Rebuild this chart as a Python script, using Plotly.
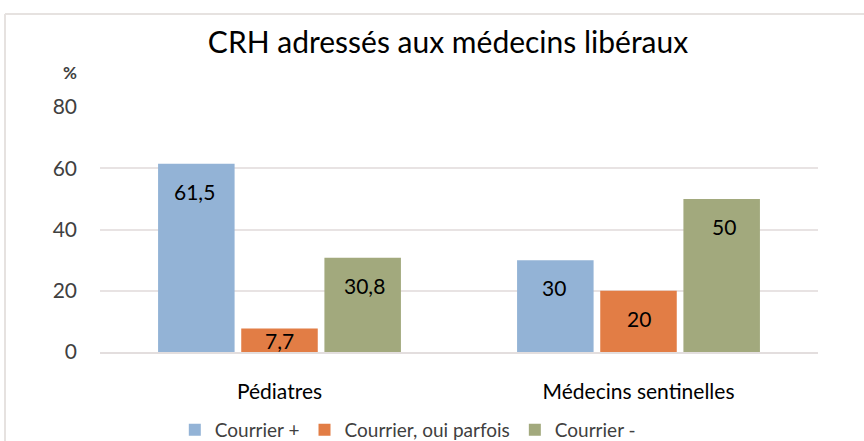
import plotly.graph_objects as go

categories = ["Pédiatres", "Médecins sentinelles"]
series_names = ["Courrier +", "Courrier, oui parfois", "Courrier -"]
courrier_plus = [61.5, 30]
courrier_parfois = [7.7, 20]
courrier_moins = [30.8, 50]
tick_vals = [0, 20, 40, 60, 80]
tick_text = ["0", "20", "40", "60", "80"]

colors = ["#93B3D6", "#E27D45", "#A2A97D"]
FONT = "Lato, 'Open Sans', sans-serif"

def fmt(v):
    s = ("%g" % v)
    return s.replace(".", ",")

fig = go.Figure()
all_series = [courrier_plus, courrier_parfois, courrier_moins]
for name, vals, c in zip(series_names, all_series, colors):
    fig.add_trace(go.Bar(
        name=name, x=categories, y=vals,
        marker=dict(color=c, line=dict(width=0)),
        offsetgroup=name,
    ))

# data labels (inside end)
annotations = []
for si, vals in enumerate(all_series):
    for ci, v in enumerate(vals):
        if v > 12:
            yv, ys, ya = v, -13, "top"
        else:
            yv, ys, ya = v / 2, 0, "middle"
        annotations.append(dict(
            x=categories[ci], y=yv, xref="x", yref="y",
            text=fmt(v), showarrow=False, yanchor=ya, yshift=ys,
            xshift=(si - 1) * 85,
            font=dict(family=FONT, size=21, color="#000000"),
        ))

annotations.append(dict(
    x=-0.042, y=(352 - 72) / 245, xref="paper", yref="paper", text="<b>%</b>",
    showarrow=False, xanchor="center", yanchor="middle",
    font=dict(family=FONT, size=17, color="#404040"),
))

fig.update_layout(
    width=864, height=441,
    margin=dict(l=100, r=46, t=107, b=89, autoexpand=False),
    paper_bgcolor="white", plot_bgcolor="white",
    title=dict(text="CRH adressés aux médecins libéraux", x=448 / 864, xref="container",
               xanchor="center", y=1 - 42 / 441, yanchor="middle",
               font=dict(family=FONT, size=30, color="#000000")),
    barmode="group", bargap=0.305, bargroupgap=0.08,
    showlegend=True,
    legend=dict(orientation="h", x=0.472, xref="container", xanchor="center",
                y=(441 - 430) / 441, yref="container", yanchor="middle",
                font=dict(family=FONT, size=19, color="#404040"),
                itemwidth=30, tracegroupgap=0),
    annotations=annotations,
    font=dict(family=FONT),
    shapes=[
        dict(type="line", xref="paper", yref="paper", x0=-0.1323, x1=1.1, y0=(352 - 14) / 245, y1=(352 - 14) / 245,
             line=dict(color="#E6E2E0", width=2)),
        dict(type="line", xref="paper", yref="paper", x0=-0.1323, x1=-0.1323, y0=(352 - 14) / 245, y1=-0.4,
             line=dict(color="#E6E2E0", width=2)),
    ],
)
fig.update_yaxes(range=[0, 80], tickvals=tick_vals, ticktext=tick_text,
                 showgrid=True, gridcolor="#E8E3E3", gridwidth=1.5,
                 zeroline=False, showline=False, ticks="", ticklen=0,
                 ticklabelstandoff=22,
                 tickfont=dict(family=FONT, size=21, color="#404040"))
fig.update_xaxes(showline=True, linecolor="#E3DEDE", linewidth=2, ticks="",
                 ticklabelstandoff=20,
                 tickfont=dict(family=FONT, size=21, color="#000000"))

fig.write_html("out.html", config={"displayModeBar": False},
               post_script="document.body.style.margin='0';document.body.style.overflow='hidden';")
